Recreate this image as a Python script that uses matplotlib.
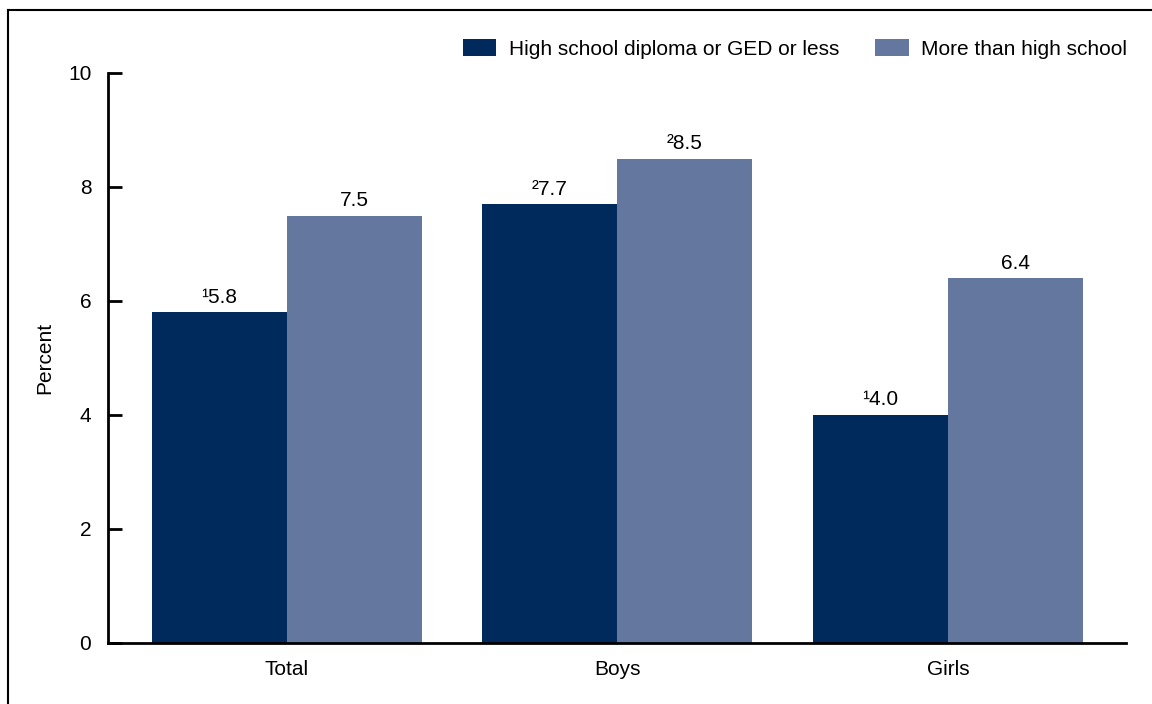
import numpy as np
import matplotlib.pyplot as plt
from matplotlib.lines import Line2D

plt.rcParams["font.family"] = ["Liberation Sans", "DejaVu Sans"]

# --- data ---
groups = ["Total", "Boys", "Girls"]
series_names = ["High school diploma or GED or less", "More than high school"]
hs_or_less = [5.8, 7.7, 4.0]
more_than_hs = [7.5, 8.5, 6.4]
hs_labels = ["¹5.8", "²7.7", "¹4.0"]
more_labels = ["7.5", "²8.5", "6.4"]
colors = ["#002A5C", "#64789F"]

W, H = 1152, 704
FS = 15
fig = plt.figure(figsize=(W / 100, H / 100), dpi=100)
ax = fig.add_axes([108 / W, 1 - 643 / H, (1126 - 108) / W, (643 - 73) / H])

x = np.arange(len(groups))
width = 0.408
b1 = ax.bar(x - width / 2, hs_or_less, width, color=colors[0], label=series_names[0])
b2 = ax.bar(x + width / 2, more_than_hs, width, color=colors[1], label=series_names[1])

for bars, labs in [(b1, hs_labels), (b2, more_labels)]:
    for rect, lab in zip(bars, labs):
        ax.annotate(lab, (rect.get_x() + rect.get_width() / 2, rect.get_height()),
                    xytext=(0, 4), textcoords="offset points",
                    ha="center", va="bottom", fontsize=FS)

ax.set_xlim(-0.541, 2.539)
ax.set_ylim(0, 10)
ax.set_yticks([0, 2, 4, 6, 8, 10])
ax.set_xticks(x)
ax.set_xticklabels(groups)
ax.tick_params(axis="y", direction="in", length=10, width=2, labelsize=FS, pad=12)
ax.tick_params(axis="x", length=0, labelsize=FS, pad=12)
ax.set_ylabel("Percent", fontsize=FS, labelpad=10)

for s in ["top", "right"]:
    ax.spines[s].set_visible(False)
for s in ["left", "bottom"]:
    ax.spines[s].set_linewidth(2)

fig.legend(handles=[b1, b2], loc="center right", bbox_to_anchor=(1142 / W, 1 - 49 / H),
           ncol=2, frameon=False, fontsize=FS, handlelength=1.59, handleheight=0.82,
           columnspacing=1.75, handletextpad=0.62, borderpad=0.2)

# frame lines (left and top)
fig.add_artist(Line2D([8 / W, 8 / W], [0, 1 - 10 / H], transform=fig.transFigure, color="black", lw=1.5))
fig.add_artist(Line2D([8 / W, 1], [1 - 10 / H, 1 - 10 / H], transform=fig.transFigure, color="black", lw=1.5))

plt.savefig("out.png", dpi=100)
plt.close()
